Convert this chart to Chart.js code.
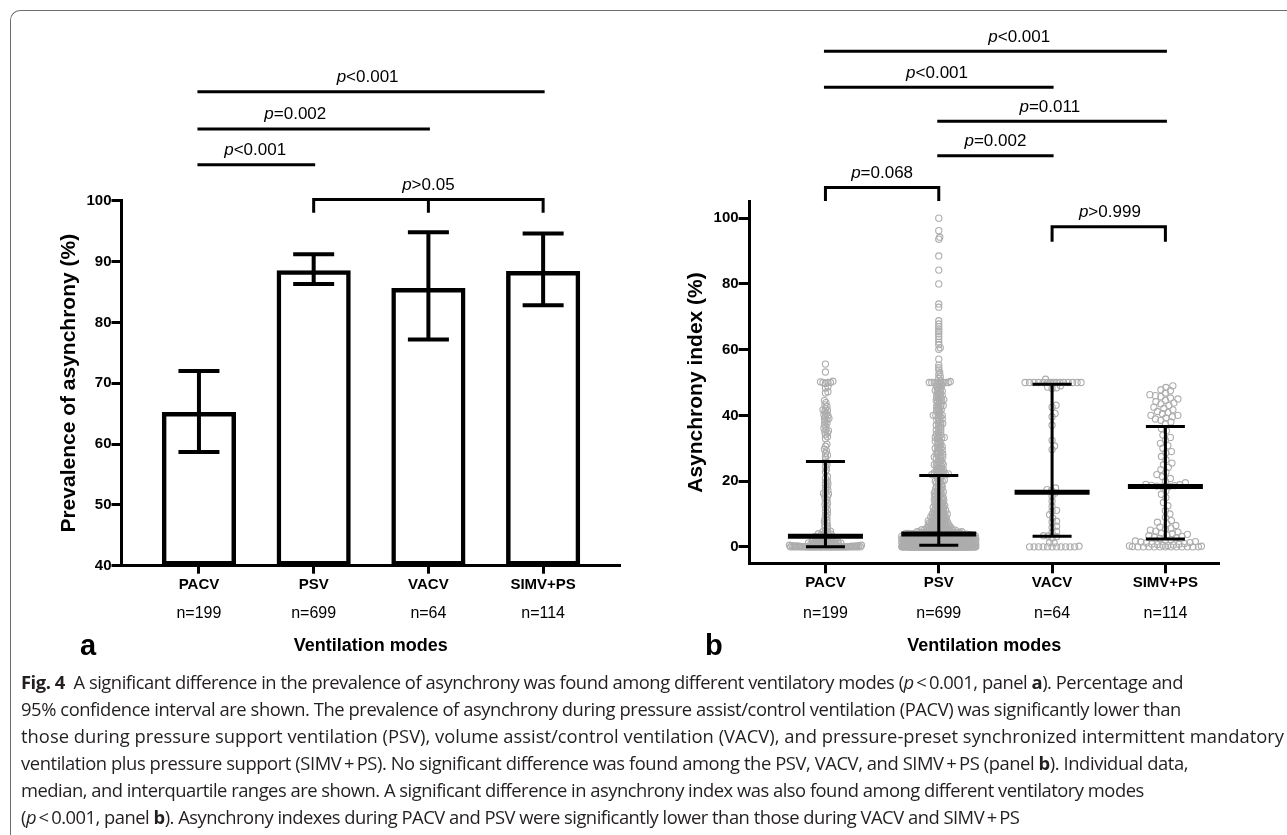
<!DOCTYPE html>
<html><head><meta charset="utf-8">
<script src="https://cdn.jsdelivr.net/npm/chart.js@4.4.1/dist/chart.umd.min.js"></script>
<style>
html,body{margin:0;padding:0;background:#fff;width:1287px;height:835px;overflow:hidden;position:relative;}
#frame{position:absolute;left:10px;top:10px;width:1400px;height:900px;border-top:1px solid #6e6e6e;border-left:1px solid #6e6e6e;border-top-left-radius:10px;}
#ca{position:absolute;left:0;top:0;width:640px;height:670px;}
#cb{position:absolute;left:640px;top:0;width:647px;height:670px;}
.pl{position:absolute;font:bold 29px 'Liberation Sans',Arial,sans-serif;line-height:29px;color:#000;}
#cap{position:absolute;left:21px;top:668px;font-family:'Open Sans',sans-serif;color:#231f20;line-height:27px;white-space:nowrap;font-size:17px;}
#cap div{height:27px;}
</style></head>
<body>
<div id="frame"></div>
<canvas id="ca" width="640" height="670"></canvas>
<canvas id="cb" width="647" height="670"></canvas>
<div class="pl" style="left:80px;top:631px">a</div>
<div class="pl" style="left:705px;top:631px">b</div>
<div id="cap">
<div><span class="t"><b>Fig. 4</b>&ensp;A significant difference in the prevalence of asynchrony was found among different ventilatory modes (<i>p</i>&#8201;&lt;&#8201;0.001, panel <b>a</b>). Percentage and</span></div>
<div><span class="t">95% confidence interval are shown. The prevalence of asynchrony during pressure assist/control ventilation (PACV) was significantly lower than</span></div>
<div><span class="t">those during pressure support ventilation (PSV), volume assist/control ventilation (VACV), and pressure-preset synchronized intermittent mandatory</span></div>
<div><span class="t">ventilation plus pressure support (SIMV&#8201;+&#8201;PS). No significant difference was found among the PSV, VACV, and SIMV&#8201;+&#8201;PS (panel <b>b</b>). Individual data,</span></div>
<div><span class="t">median, and interquartile ranges are shown. A significant difference in asynchrony index was also found among different ventilatory modes</span></div>
<div><span class="t">(<i>p</i>&#8201;&lt;&#8201;0.001, panel <b>b</b>). Asynchrony indexes during PACV and PSV were significantly lower than those during VACV and SIMV&#8201;+&#8201;PS</span></div>
</div>
<script>
// ---------------- data ----------------
const categories = ['PACV', 'PSV', 'VACV', 'SIMV+PS'];
const sampleSizes = ['n=199', 'n=699', 'n=64', 'n=114'];

// panel a: prevalence of asynchrony (%) with 95% CI
const prevalence = [65.2, 88.5, 85.6, 88.4];
const ciLower = [58.7, 86.3, 77.2, 82.8];
const ciUpper = [72.0, 91.2, 94.8, 94.6];
const yTicksA = [40, 50, 60, 70, 80, 90, 100];

// panel b: individual asynchrony index values (%)
const pacvIndex = [
55.6,53.2,50.4,50.2,50,50,50,49.7,48.7,48.3,47.2,46.8,
44.5,43.9,43.2,42.7,42.1,41.7,41.5,41.2,40.6,40.2,39.9,39.6,39.1,38.9,38.6,38.1,37.6,37.2,36.6,36.1,35.6,35.3,34.9,34.6,34.1,33.5,33.0,
31.2,30.6,29.7,29.2,28.5,27.9,27.4,26.6,
25.8,25.0,24.4,23.5,22.8,21.4,20.9,20.1,19.6,19.2,18.8,18.3,17.8,17.2,16.8,16.3,16.0,15.7,15.3,14.9,14.4,13.8,13.3,12.9,12.4,
11.8,11.2,10.7,10.2,9.7,9.1,8.6,8.1,7.7,7.3,6.8,6.4,6.0,5.6,5.1,4.8,4.6,4.4,4.2,4.0,3.9,3.7,3.6,3.5,3.3,
3.1,3.0,3.0,2.9,2.8,2.8,2.7,2.6,2.5,2.5,2.4,2.3,2.2,2.2,2.1,2.0,2.0,1.9,1.8,1.8,1.7,1.6,1.6,1.5,1.5,1.4,1.3,1.3,1.2,1.2,
1.1,1.0,1.0,1.0,0.9,0.9,0.8,0.8,0.7,0.7,0.6,0.6,0.5,0.5,0.5,0.4,0.4,0.3,0.3,0.3,0.2,0.2,0.2,0.1,0.1,0.1,
0,0,0,0,0,0,0,0,0,0,
0,0,0,0,0,0,0,0,0,0,
0,0,0,0,0,0,0,0,0,0,
0,0,0,0,0,0,0,0,0,0,
0,0,0,0,0,0
];
const psvIndex = [
100,96.2,94.2,93.6,88.5,84.2,80.0,73.9,72.9,68.8,67.8,67.0,66.3,65.6,64.8,64.0,63.2,62.3,61.5,60.6,60.1,57.1,55.3,54.5,53.8,53.0,52.4,51.8,51.3,
50.5,50.3,50.2,50,50,50,50,50,50,49.8,49.7,49.5,
49.0,48.9,48.7,48.4,48.1,47.8,47.6,47.4,47.3,47.1,46.7,46.4,
46.2,46.0,45.9,45.5,45.5,45.1,44.8,44.6,44.4,44.4,44.0,43.7,
43.5,43.0,42.9,42.9,42.6,42.2,41.9,41.7,41.5,41.2,40.9,40.5,
40.0,40.0,40.0,40.0,39.6,39.3,39.0,38.8,38.5,38.2,37.9,37.5,
37.5,37.1,37.0,36.8,36.4,36.1,35.7,35.5,35.3,35.0,34.6,34.3,
34.0,33.9,33.3,33.3,33.3,33.3,32.9,32.5,32.1,32.0,31.8,31.4,31.0,
30.8,30.5,30.4,30.0,30.0,29.6,29.4,29.2,28.9,28.6,28.6,28.2,28.0,
27.8,27.5,27.3,27.3,27.0,26.9,26.7,26.3,26.0,25.7,25.5,25.4,25.0,
25.0,25.0,24.7,24.5,24.4,24.1,23.8,23.6,23.5,23.3,23.1,22.9,
22.7,22.6,22.5,22.4,22.2,22.2,22.0,22.0,21.9,21.9,21.8,21.8,
21.4,21.1,20.8,20.5,20.3,20.0,20.0,20.0,19.7,19.4,
19.2,18.9,18.6,18.4,18.2,18.0,17.8,17.6,17.4,17.1,
16.9,16.7,16.7,16.5,16.3,16.1,15.9,15.8,15.6,15.4,
15.2,15.0,14.9,14.7,14.5,14.3,14.3,14.1,14.0,13.8,
13.6,13.5,13.3,13.1,13.0,12.8,12.7,12.5,12.5,12.3,
12.2,12.0,11.9,11.8,11.6,11.5,11.4,11.1,11.1,11.0,
10.9,10.7,10.6,10.5,10.3,10.2,10.0,10.0,10.0,9.9,
9.8,9.7,9.5,9.4,9.3,9.1,9.1,9.0,8.9,8.8,
8.7,8.6,8.5,8.3,8.3,8.2,8.1,8.0,7.9,7.8,
7.7,7.7,7.6,7.5,7.4,7.3,7.3,7.2,7.1,7.0,
6.9,6.9,6.8,6.7,6.7,6.6,6.5,6.5,6.4,6.3,
6.3,6.2,6.1,6.1,6.0,5.9,5.9,5.8,5.8,5.7,
5.6,5.6,5.5,5.5,5.4,5.4,5.3,5.3,5.2,5.2,
5.1,5.1,5.0,5.0,5.0,4.9,4.9,4.8,4.8,4.8,
4.7,4.7,4.6,4.6,4.6,4.5,4.5,4.5,4.4,4.4,
4.4,4.3,4.3,4.3,4.2,4.2,4.2,4.2,4.1,4.1,
4.1,4.1,4.0,4.0,4.0,4.0,3.9,3.9,3.9,3.9,
3.8,3.8,3.8,3.7,3.7,3.7,3.7,3.6,3.6,3.6,
3.6,3.5,3.5,3.5,3.5,3.4,3.4,3.4,3.4,3.3,
3.3,3.3,3.3,3.2,3.2,3.2,3.2,3.1,3.1,3.1,
3.1,3.0,3.0,3.0,3.0,3.0,2.9,2.9,2.9,2.9,
2.8,2.8,2.8,2.8,2.7,2.7,2.7,2.7,2.6,2.6,
2.6,2.6,2.5,2.5,2.5,2.5,2.5,2.4,2.4,2.4,
2.4,2.3,2.3,2.3,2.3,2.2,2.2,2.2,2.2,2.1,
2.1,2.1,2.1,2.0,2.0,2.0,2.0,2.0,1.9,1.9,
1.9,1.9,1.8,1.8,1.8,1.8,1.7,1.7,1.7,1.7,
1.6,1.6,1.6,1.6,1.5,1.5,1.5,1.5,1.5,1.4,
1.4,1.4,1.4,1.3,1.3,1.3,1.3,1.2,1.2,1.2,
1.2,1.1,1.1,1.1,1.1,1.0,1.0,1.0,1.0,1.0,
0.9,0.9,0.9,0.9,0.8,0.8,0.8,0.8,0.7,0.7,
0.7,0.7,0.6,0.6,0.6,0.6,0.5,0.5,0.5,0.5,
3.5,3.3,3.1,2.9,2.7,2.5,2.3,2.1,1.9,1.7,
3.6,3.4,3.2,3.0,2.8,2.6,2.4,2.2,2.0,1.8,
1.6,1.4,1.2,1.0,0.8,0.6,1.5,1.3,1.1,0.9,
0.7,0.5,2.0,2.5,3.0,1.0,1.5,0.5,0.6,0.8,
2.2,1.2,0.9,2.7,3.3,1.8,0.6,1.1,2.4,0.7,
0.4,0.4,0.4,0.4,0.4,0.4,0.4,0.4,0.4,0.4,
0.3,0.3,0.3,0.3,0.3,0.3,0.3,0.3,0.3,0.3,
0.2,0.2,0.2,0.2,0.2,0.2,0.2,0.2,0.2,0.2,
0.1,0.1,0.1,0.1,0.1,0.1,0.1,0.1,0.1,0.1,
0,0,0,0,0,0,0,0,0,0,
0,0,0,0,0,0,0,0,0,0,
0,0,0,0,0,0,0,0,0,0,
0,0,0,0,0,0,0,0,0,0,
0,0,0,0,0,0,0,0,0,0,
0,0,0,0,0,0,0,0,0,0,
0,0,0,0,0,0,0,0,0,0,
0,0,0,0,0,0,0,0,0,0,
0,0,0,0,0,0,0,0,0,0,
0,0,0,0,0,0,0,0,0,0,
0,0,0,0,0,0,0,0,0,0,
0,0,0,0,0,0,0,0,0,0,
0,0,0,0,0,0,0,0,0,0,
0,0,0,0,0
];
const vacvIndex = [
51.0,50,50,50,50,50,50,50,50,50,50,50,50,50,50,50,50,49.0,48.6,48.4,48.2,
43.1,42.5,40.6,39.6,37.0,32.4,30.7,29.6,
17.9,17.4,17.2,16.4,15.4,13.9,12.3,11.1,10.9,9.8,8.8,7.8,7.5,6.3,5.9,4.7,4.4,3.4,
3.3,3.1,2.7,1.3,1.2,0.2,0,0,0,0,0,0,0,0,0,0,0
];
const simvIndex = [
49.0,48.5,47.8,47.5,46.8,46.3,46.0,45.7,45.3,45.0,44.6,44.2,43.8,43.5,43.0,42.5,42.1,41.7,41.2,40.9,40.5,40.0,40.0,39.6,39.2,38.9,38.5,38.0,37.5,
36.0,35.3,34.0,33.3,32.5,31.5,30.8,30.0,29.0,28.6,27.5,26.5,25.5,25.0,24.2,23.5,22.7,22.0,21.4,20.8,20.0,19.5,19.0,18.9,18.7,18.6,18.5,18.4,
18.3,17.0,16.0,15.0,13.5,12.5,11.0,10.0,9.0,8.0,7.5,7.0,6.5,6.0,5.7,5.4,5.1,4.8,4.5,4.2,4.0,3.8,3.6,3.4,3.2,3.0,2.8,2.6,
2.2,2.0,1.8,1.6,1.5,1.3,1.2,1.0,0.9,0.8,0.7,0.6,0.5,0.4,0.3,0.2,0.1,0,0,0,0,0,0,0,0,0,0,0,0
];
const medianB = [3.2, 3.9, 16.6, 18.4];
const q1B = [0, 0.5, 3.2, 2.4];
const q3B = [26.0, 21.7, 49.5, 36.6];
const yTicksB = [0, 20, 40, 60, 80, 100];

// significance annotations (group indices, label, level in axis units)
const sigA = [
  {from: 1, to: 4, label: 'p<0.001', level: 117.9, labelAt: 2.47},
  {from: 1, to: 3, label: 'p=0.002', level: 111.8, labelAt: 1.84},
  {from: 1, to: 2, label: 'p<0.001', level: 105.9, labelAt: 1.49},
  {from: 2, to: 4, label: 'p>0.05', level: 100.2, labelAt: 3.0, legs: [2, 3, 4], legTo: 98.0}
];
const sigB = [
  {from: 1, to: 4, label: 'p<0.001', level: 150.8, labelAt: 2.71},
  {from: 1, to: 3, label: 'p<0.001', level: 139.8, labelAt: 1.985},
  {from: 2, to: 4, label: 'p=0.011', level: 129.5, labelAt: 2.98},
  {from: 2, to: 3, label: 'p=0.002', level: 119.0, labelAt: 2.5},
  {from: 1, to: 2, label: 'p=0.068', level: 109.3, labelAt: 1.5, legs: [1, 2], legTo: 105.2},
  {from: 3, to: 4, label: 'p>0.999', level: 97.4, labelAt: 3.51, legs: [3, 4], legTo: 92.8}
];

// ---------------- drawing ----------------
const FONT = "'Liberation Sans', Arial, sans-serif";

function drawP(ctx, label, cx, by) {
  const rest = label.slice(1);
  ctx.font = 'italic 17px ' + FONT;
  const w1 = ctx.measureText('p').width;
  ctx.font = '17px ' + FONT;
  const w2 = ctx.measureText(rest).width;
  const x0 = cx - (w1 + w2) / 2;
  ctx.fillStyle = '#000';
  ctx.textAlign = 'left';
  ctx.textBaseline = 'alphabetic';
  ctx.font = 'italic 17px ' + FONT;
  ctx.fillText('p', x0, by);
  ctx.font = '17px ' + FONT;
  ctx.fillText(rest, x0 + w1, by);
}

function annotationPlugin(sig) {
  return {
    id: 'sigAnn',
    afterDraw(chart) {
      const {ctx, scales: {x, y}} = chart;
      ctx.save();
      ctx.strokeStyle = '#000';
      ctx.lineWidth = 3;
      ctx.lineCap = 'butt';
      sig.forEach(a => {
        const x1 = x.getPixelForValue(a.from), x2 = x.getPixelForValue(a.to);
        const yl = y.getPixelForValue(a.level);
        ctx.beginPath();
        ctx.moveTo(x1 - 1.5, yl); ctx.lineTo(x2 + 1.5, yl);
        if (a.legs) {
          const yb = y.getPixelForValue(a.legTo);
          a.legs.forEach(l => { const xl = x.getPixelForValue(l); ctx.moveTo(xl, yl - 1.5); ctx.lineTo(xl, yb); });
        }
        ctx.stroke();
        drawP(ctx, a.label, x.getPixelForValue(a.labelAt), yl - 9.5);
      });
      // sample sizes under the category labels
      ctx.font = '16px ' + FONT;
      ctx.fillStyle = '#000';
      ctx.textAlign = 'center';
      ctx.textBaseline = 'middle';
      sampleSizes.forEach((s, i) => ctx.fillText(s, x.getPixelForValue(i + 1), x.bottom - 56));
      ctx.restore();
    }
  };
}

const errorBarPlugin = {
  id: 'errBars',
  afterDatasetsDraw(chart) {
    const {ctx, scales: {x, y}} = chart;
    ctx.save();
    ctx.strokeStyle = '#000';
    ctx.lineWidth = 4;
    ctx.lineCap = 'butt';
    prevalence.forEach((v, i) => {
      const xc = x.getPixelForValue(i + 1);
      const yl = y.getPixelForValue(ciLower[i]), yu = y.getPixelForValue(ciUpper[i]);
      ctx.beginPath();
      ctx.moveTo(xc, yl); ctx.lineTo(xc, yu);
      ctx.moveTo(xc - 20.5, yl); ctx.lineTo(xc + 20.5, yl);
      ctx.moveTo(xc - 20.5, yu); ctx.lineTo(xc + 20.5, yu);
      ctx.stroke();
    });
    ctx.restore();
  }
};

const iqrPlugin = {
  id: 'iqr',
  afterDatasetsDraw(chart) {
    const {ctx, scales: {x, y}} = chart;
    ctx.save();
    ctx.strokeStyle = '#000';
    ctx.lineCap = 'butt';
    medianB.forEach((m, i) => {
      const xc = x.getPixelForValue(i + 1);
      const y1 = y.getPixelForValue(q1B[i]), y3 = y.getPixelForValue(q3B[i]), ym = y.getPixelForValue(m);
      ctx.lineWidth = 3;
      ctx.beginPath();
      ctx.moveTo(xc, y1); ctx.lineTo(xc, y3);
      ctx.moveTo(xc - 19.5, y1); ctx.lineTo(xc + 19.5, y1);
      ctx.moveTo(xc - 19.5, y3); ctx.lineTo(xc + 19.5, y3);
      ctx.stroke();
      ctx.lineWidth = 5;
      ctx.beginPath();
      ctx.moveTo(xc - 37.5, ym); ctx.lineTo(xc + 37.5, ym);
      ctx.stroke();
    });
    ctx.restore();
  }
};

function axisCommon(tickLen, pad) {
  return {
    offset: false,
    grid: {display: true, offset: false, drawOnChartArea: false, drawTicks: true, tickLength: tickLen, tickWidth: 3, tickColor: '#000'},
    border: {display: true, color: '#000', width: 3},
    ticks: {font: {family: FONT, size: 15, weight: 'bold'}, color: '#000', padding: pad, maxRotation: 0, autoSkip: false}
  };
}

// ---- panel a ----
const xA = axisCommon(8, 2);
xA.ticks.callback = v => categories[v - 1];
const yA = axisCommon(10, 0);
new Chart(document.getElementById('ca'), {
  type: 'bar',
  data: {
    datasets: [{
      label: 'Prevalence of asynchrony (%)',
      data: prevalence.map((v, i) => ({x: i + 1, y: v})),
      backgroundColor: '#fff', borderColor: '#000', borderWidth: 4.5, borderSkipped: false,
      barThickness: 73.5, base: 40
    }]
  },
  options: {
    responsive: false, animation: false, events: [],
    layout: {padding: {top: 200.7, right: 20, left: 0, bottom: 0}},
    plugins: {legend: {display: false}, tooltip: {enabled: false}},
    scales: {
      x: Object.assign(xA, {
        type: 'linear', min: 0.325, max: 4.67,
        afterBuildTicks: s => { s.ticks = categories.map((c, i) => ({value: i + 1})); },
        afterFit: s => { s.height = 104.3; },
        title: {display: true, text: 'Ventilation modes', color: '#000', font: {family: FONT, size: 18, weight: 'bold'}, padding: {top: 0, bottom: 13}}
      }),
      y: Object.assign(yA, {
        type: 'linear', min: 40, max: 100,
        afterBuildTicks: s => { s.ticks = yTicksA.map(v => ({value: v})); },
        afterFit: s => { s.width = 121.5; },
        title: {display: true, text: 'Prevalence of asynchrony (%)', color: '#000', font: {family: FONT, size: 21, weight: 'bold'}, padding: {top: 57, bottom: 0}}
      })
    }
  },
  plugins: [errorBarPlugin, annotationPlugin(sigA)]
});

// ---- panel b ----
const groupsB = [pacvIndex, psvIndex, vacvIndex, simvIndex];
const swarmGap = [2.4, 2.2, 4.3, 5.4];
const swarmHalfWidth = [36, 37, 29, 36];
const xB = axisCommon(10, 1);
xB.ticks.callback = v => categories[v - 1];
const yB = axisCommon(10.7, 0);
const chartB = new Chart(document.getElementById('cb'), {
  type: 'scatter',
  data: {
    datasets: categories.map((c, g) => ({
      label: c,
      data: [],
      pointRadius: 3.1, pointBorderWidth: 1.1,
      pointBorderColor: '#adadad', pointBackgroundColor: 'rgba(255,255,255,0)'
    }))
  },
  options: {
    responsive: false, animation: false, events: [],
    layout: {padding: {top: 201.7, right: 68, left: 0, bottom: 0}},
    plugins: {legend: {display: false}, tooltip: {enabled: false}},
    scales: {
      x: Object.assign(xB, {
        type: 'linear', min: 0.328, max: 4.473,
        afterBuildTicks: s => { s.ticks = categories.map((c, i) => ({value: i + 1})); },
        afterFit: s => { s.height = 106.7; },
        title: {display: true, text: 'Ventilation modes', color: '#000', font: {family: FONT, size: 18, weight: 'bold'}, padding: {top: 0, bottom: 13}}
      }),
      y: Object.assign(yB, {
        type: 'linear', min: -5, max: 105,
        afterBuildTicks: s => { s.ticks = yTicksB.map(v => ({value: v})); },
        afterFit: s => { s.width = 109.3; },
        title: {display: true, text: 'Asynchrony index (%)', color: '#000', font: {family: FONT, size: 21, weight: 'bold'}, padding: {top: 44, bottom: 0}}
      })
    }
  },
  plugins: [iqrPlugin, annotationPlugin(sigB)]
});

// beeswarm layout of the individual points (pixel space, through the chart scales)
function swarmOffsets(values, yScale, d, maxOff) {
  const pts = values.map((v, idx) => ({idx, py: yScale.getPixelForValue(v)}));
  pts.sort((a, b) => b.py - a.py);
  const cands = [0];
  for (let k = 0.5; k <= maxOff + 1e-9; k += 0.5) cands.push(k, -k);
  const placed = [];
  const out = new Array(values.length);
  const d2 = d * d;
  for (const p of pts) {
    const near = placed.filter(q => Math.abs(q.py - p.py) < d);
    let best = null;
    for (const c of cands) {
      let ok = true;
      for (const q of near) {
        const dx = q.x - c, dy = q.py - p.py;
        if (dx * dx + dy * dy < d2) { ok = false; break; }
      }
      if (ok) { best = c; break; }
    }
    if (best === null) {
      let bestScore = -1;
      for (const c of cands) {
        let m = Infinity;
        for (const q of near) {
          const dx = q.x - c, dy = q.py - p.py;
          const dd = dx * dx + dy * dy;
          if (dd < m) m = dd;
        }
        if (m > bestScore) { bestScore = m; best = c; }
      }
    }
    placed.push({py: p.py, x: best});
    out[p.idx] = best;
  }
  return out;
}
(function layoutSwarm() {
  const xs = chartB.scales.x, ys = chartB.scales.y;
  groupsB.forEach((vals, g) => {
    const offs = swarmOffsets(vals, ys, swarmGap[g], swarmHalfWidth[g]);
    const xc = xs.getPixelForValue(g + 1);
    chartB.data.datasets[g].data = vals.map((v, i) => ({x: xs.getValueForPixel(xc + offs[i]), y: v}));
  });
  chartB.update('none');
})();

// caption fit
(function fitCaption() {
  const capRight = [1183, 1181, 1284, 1188, 1133, 1007];
  const cap = document.getElementById('cap');
  const spans = cap.querySelectorAll('span.t');
  const w3 = spans[2].getBoundingClientRect().width;
  const fs = 17 * (capRight[2] - 21) / w3;
  cap.style.fontSize = fs.toFixed(2) + 'px';
  spans.forEach((s, i) => {
    const r = s.getBoundingClientRect();
    const gap = capRight[i] - r.right;
    const n = s.textContent.length;
    s.style.letterSpacing = Math.max(-0.5, Math.min(0.5, gap / n)).toFixed(3) + 'px';
  });
})();
</script>
</body></html>
